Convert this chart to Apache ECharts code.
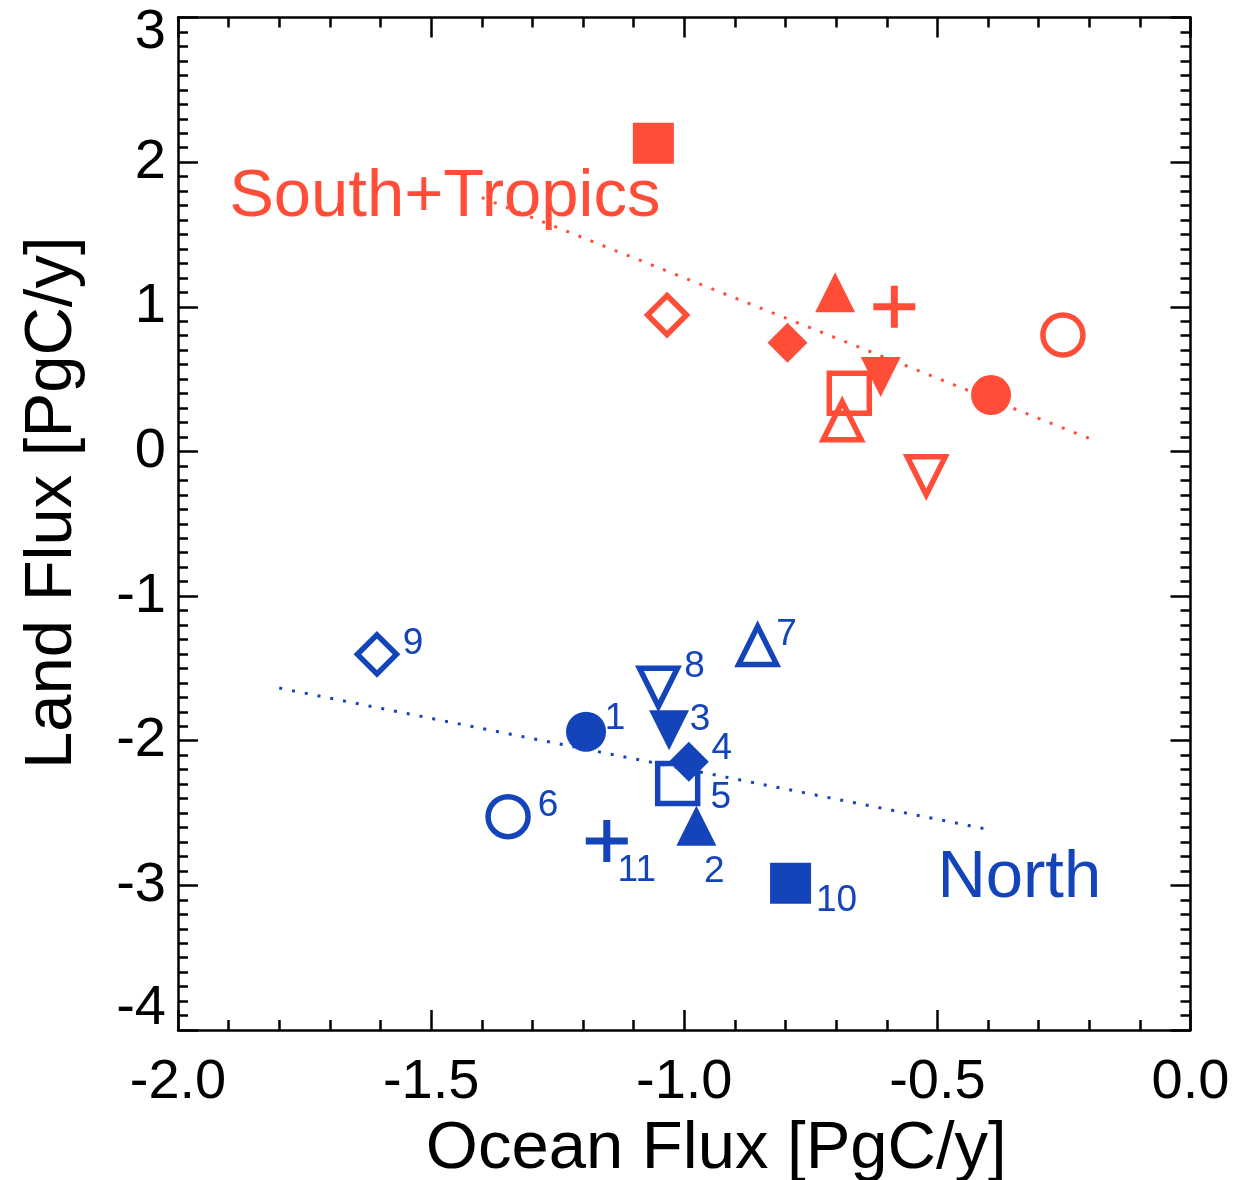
<!DOCTYPE html>
<html>
<head>
<meta charset="utf-8">
<title>Land vs Ocean Flux</title>
<script src="https://cdn.jsdelivr.net/npm/echarts@6/dist/echarts.min.js"></script>
<style>
  html, body { margin: 0; padding: 0; background: #ffffff; }
  #chart { width: 1238px; height: 1180px; }
</style>
</head>
<body>
<div id="chart"></div>
<script>
// ---- data -------------------------------------------------------------
const models = ['1', '2', '3', '4', '5', '6', '7', '8', '9', '10', '11'];

// Northern hemisphere fluxes, PgC/y
const northOcean = [-1.194, -0.976, -1.030, -0.991, -1.013, -1.348, -0.855, -1.051, -1.607, -0.790, -1.153];
const northLand  = [-1.938, -2.588, -1.928, -2.145, -2.295, -2.525, -1.341, -1.631, -1.403, -2.986, -2.693];

// South + Tropics fluxes, PgC/y
const southOcean = [-0.394, -0.702, -0.612, -0.796, -0.674, -0.252, -0.688, -0.522, -1.034, -1.061, -0.585];
const southLand  = [ 0.390,  1.100,  0.514,  0.752,  0.402,  0.805,  0.212, -0.168,  0.943,  2.130,  1.000];

// Regression lines (end points)
const southFitOcean = [-1.40, -0.20];
const southFitLand  = [1.755, 0.090];
const northFitOcean = [-1.80, -0.40];
const northFitLand  = [-1.636, -2.613];

// Axis ticks
const xTicks = { min: -2.0, max: 0.0, step: 0.5 };
const yTicks = { min: -4, max: 3, step: 1 };

// Region names and the point where each name starts
const regionNames = ['South+Tropics', 'North'];
const regionNameAt = [[-1.899, 1.755], [-0.500, -2.956]];

// ---- styles -----------------------------------------------------------
const RED = '#FF4D38';
const BLUE = '#1444B9';
const FONT = '"Liberation Sans", Arial, Helvetica, sans-serif';

const PLUS = 'path://M2.5,0h1v2.5h2.5v1h-2.5v2.5h-1v-2.5h-2.5v-1h2.5z';
const DOWN_TRI = 'path://M0,0L2,0L1,2Z';

// one marker per model
const markers = [
  { symbol: 'circle',   size: 40, filled: true  },
  { symbol: 'triangle', size: 40, filled: true  },
  { symbol: DOWN_TRI,   size: 40, filled: true  },
  { symbol: 'diamond',  size: 40, filled: true  },
  { symbol: 'rect',     size: 40, filled: false },
  { symbol: 'circle',   size: 40, filled: false },
  { symbol: 'triangle', size: 38, filled: false },
  { symbol: DOWN_TRI,   size: 38, filled: false },
  { symbol: 'diamond',  size: 39, filled: false },
  { symbol: 'rect',     size: 41, filled: true  },
  { symbol: PLUS,       size: 42, filled: true  }
];

// where each model number sits relative to its northern marker (px)
const numberOffsets = [
  [29, -13], [18, 46], [31, -11], [33, -13], [43, 14], [40, -11],
  [29, -11], [36, -21], [36, -11], [46, 17], [30, 30]
];

function pointItems(xs, ys, color, withNumbers) {
  return models.map((m, i) => {
    const mk = markers[i];
    const item = {
      name: m,
      value: [xs[i], ys[i]],
      symbol: mk.symbol,
      symbolSize: mk.size,
      itemStyle: mk.filled
        ? { color: color, borderWidth: 0, opacity: 1 }
        : { color: 'rgba(0,0,0,0)', borderColor: color, borderWidth: 5.5,
            borderJoin: 'miter', borderMiterLimit: 10, opacity: 1 }
    };
    if (withNumbers) {
      item.label = {
        show: true,
        formatter: m,
        position: 'inside',
        offset: numberOffsets[i],
        align: 'center',
        verticalAlign: 'middle',
        color: color,
        fontFamily: FONT,
        fontSize: 37
      };
    }
    return item;
  });
}

function fitLine(xs, ys, color) {
  return {
    type: 'line',
    data: xs.map((x, i) => [x, ys[i]]),
    symbol: 'none',
    silent: true,
    z: 1,
    lineStyle: { color: color, width: 3, type: [3, 10], cap: 'butt', opacity: 1 }
  };
}

const axisLineStyle = { color: '#000', width: 2.5 };

function xAxisDef(pos, labels) {
  return {
    type: 'value',
    position: pos,
    min: xTicks.min, max: xTicks.max, interval: xTicks.step,
    axisLine: { show: true, onZero: false, lineStyle: axisLineStyle },
    axisTick: { show: true, inside: true, length: 20, lineStyle: axisLineStyle },
    minorTick: { show: true, splitNumber: 5, length: 10, lineStyle: axisLineStyle },
    splitLine: { show: false },
    axisLabel: {
      show: labels,
      margin: 25,
      color: '#000',
      fontFamily: FONT,
      fontSize: 56,
      formatter: v => v.toFixed(1)
    },
    name: labels ? 'Ocean Flux [PgC/y]' : '',
    nameLocation: 'middle',
    nameGap: 76,
    nameTextStyle: { color: '#000', fontFamily: FONT, fontSize: 67, padding: [0, 0, 0, 64] }
  };
}

function yAxisDef(pos, labels) {
  const base = { color: '#000', fontFamily: FONT, fontSize: 56 };
  return {
    type: 'value',
    position: pos,
    min: yTicks.min, max: yTicks.max, interval: yTicks.step,
    axisLine: { show: true, onZero: false, lineStyle: axisLineStyle },
    axisTick: { show: true, inside: true, length: 20, lineStyle: axisLineStyle },
    minorTick: { show: true, splitNumber: 10, length: 10, lineStyle: axisLineStyle },
    splitLine: { show: false },
    axisLabel: {
      show: labels,
      margin: 12,
      color: '#000',
      fontFamily: FONT,
      fontSize: 56,
      formatter: v => v === yTicks.max ? '{top|' + v + '}'
                    : v === yTicks.min ? '{bot|' + v + '}'
                    : String(v),
      rich: {
        top: Object.assign({ padding: [30, 0, 0, 0] }, base),
        bot: Object.assign({ padding: [0, 0, 42, 0] }, base)
      }
    },
    name: labels ? 'Land Flux [PgC/y]' : '',
    nameLocation: 'middle',
    nameGap: 92,
    nameTextStyle: { color: '#000', fontFamily: FONT, fontSize: 67, padding: [0, 0, 0, 42] }
  };
}

const chart = echarts.init(document.getElementById('chart'), null, { renderer: 'canvas' });

chart.setOption({
  animation: false,
  backgroundColor: '#ffffff',
  grid: { left: 178, right: 47.5, top: 17.5, bottom: 150, outerBoundsMode: 'none' },
  xAxis: [xAxisDef('bottom', true), xAxisDef('top', false)],
  yAxis: [yAxisDef('left', true), yAxisDef('right', false)],
  series: [
    fitLine(southFitOcean, southFitLand, RED),
    fitLine(northFitOcean, northFitLand, BLUE),
    {
      name: 'South+Tropics',
      type: 'scatter',
      z: 3,
      emphasis: { disabled: true },
      data: pointItems(southOcean, southLand, RED, false)
    },
    {
      name: 'North',
      type: 'scatter',
      z: 3,
      emphasis: { disabled: true },
      data: pointItems(northOcean, northLand, BLUE, true)
    },
    {
      name: 'regions',
      type: 'scatter',
      z: 2,
      silent: true,
      symbolSize: 0,
      itemStyle: { opacity: 1 },
      emphasis: { disabled: true },
      data: regionNames.map((n, i) => ({
        name: n,
        value: regionNameAt[i],
        itemStyle: { opacity: 1 },
        label: {
          show: true,
          formatter: n,
          position: 'inside',
          align: 'left',
          verticalAlign: 'middle',
          color: i === 0 ? RED : BLUE,
          opacity: 1,
          fontFamily: FONT,
          fontSize: 67
        }
      }))
    }
  ]
});
</script>
</body>
</html>
